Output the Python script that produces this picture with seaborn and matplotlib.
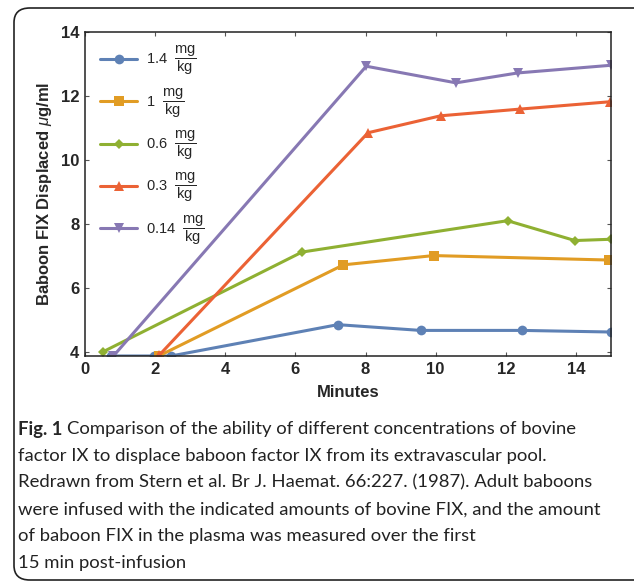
import matplotlib
matplotlib.use("Agg")
import matplotlib.pyplot as plt
import seaborn as sns
import pandas as pd
from matplotlib.patches import FancyBboxPatch

# data
doses = ["1.4", "1", "0.6", "0.3", "0.14"]
minutes_14 = [0.75, 1.97, 2.45, 7.21, 9.57, 12.47, 15.0]
fix_14 = [3.87, 3.87, 3.87, 4.85, 4.67, 4.67, 4.62]
minutes_10 = [2.1, 7.37, 9.94, 14.95]
fix_10 = [3.87, 6.72, 7.01, 6.87]
minutes_06 = [0.51, 6.19, 12.05, 13.97, 15.0]
fix_06 = [4.0, 7.12, 8.10, 7.48, 7.52]
minutes_03 = [2.12, 8.07, 10.14, 12.41, 14.98]
fix_03 = [3.9, 10.85, 11.38, 11.59, 11.82]
minutes_014 = [0.81, 8.02, 10.58, 12.34, 15.0]
fix_014 = [3.87, 12.93, 12.41, 12.72, 12.96]

caption = [
    "Comparison of the ability of different concentrations of bovine",
    "factor IX to displace baboon factor IX from its extravascular pool.",
    "Redrawn from Stern et al. Br J. Haemat. 66:227. (1987). Adult baboons",
    "were infused with the indicated amounts of bovine FIX, and the amount",
    "of baboon FIX in the plasma was measured over the first",
    "15 min post-infusion",
]

colors = ["#5E81B5", "#E19C24", "#8FB032", "#EB6235", "#8778B3"]
marks = ["o", "s", "D", "^", "v"]

rows = []
for dose, xs, ys in zip(doses,
                        [minutes_14, minutes_10, minutes_06, minutes_03, minutes_014],
                        [fix_14, fix_10, fix_06, fix_03, fix_014]):
    for x, y in zip(xs, ys):
        rows.append({"dose": dose, "minutes": x, "fix": y})
df = pd.DataFrame(rows)

sns.set_style("ticks")
plt.rcParams["font.family"] = ["Liberation Sans", "DejaVu Sans"]
plt.rcParams["mathtext.fontset"] = "custom"
plt.rcParams["mathtext.rm"] = "Liberation Sans"
plt.rcParams["mathtext.it"] = "Liberation Sans:italic"
plt.rcParams["mathtext.bf"] = "Liberation Sans:bold"

fig = plt.figure(figsize=(6.34, 5.82), dpi=100)
frame = FancyBboxPatch((14 / 634, 2 / 582), 640 / 634, 572 / 582,
                       boxstyle="round,pad=0,rounding_size=0.025",
                       transform=fig.transFigure, fill=False,
                       edgecolor="#222222", linewidth=1.2)
fig.patches.append(frame)

ax = fig.add_axes([85 / 634, 226 / 582, 526 / 634, 324 / 582])
sns.lineplot(data=df, x="minutes", y="fix", hue="dose", style="dose",
             hue_order=doses, style_order=doses,
             palette=dict(zip(doses, colors)), markers=dict(zip(doses, marks)),
             dashes=False, linewidth=2.2, markersize=7, markeredgewidth=0,
             legend=False, ax=ax)
for line, m in zip(ax.get_lines(), marks):
    if m == "D":
        line.set_markersize(5)

ax.set_xlim(0, 15)
ax.set_ylim(3.87, 14)
ax.set_xticks(range(0, 15, 2))
ax.set_yticks(range(4, 15, 2))
ax.tick_params(direction="in", length=3, width=0.8, top=True, right=True,
               labelsize=12, pad=4, color="#555555")
for lab in ax.get_xticklabels() + ax.get_yticklabels():
    lab.set_fontweight("bold")
for sp in ax.spines.values():
    sp.set_visible(True)
    sp.set_linewidth(1.1)
    sp.set_color("#222222")
ax.set_xlabel("Minutes", fontsize=12, fontweight="bold", labelpad=6)
ax.set_ylabel(r"Baboon FIX Displaced $\mu$g/ml", fontsize=12,
              fontweight="bold", labelpad=5)

labels = [d + r"  $\dfrac{\mathrm{mg}}{\mathrm{kg}}$" for d in doses]
ax.legend(ax.get_lines()[:5], labels, loc="upper left", frameon=False,
          fontsize=10.5, handlelength=2.5, labelspacing=0.6,
          bbox_to_anchor=(0.01, 0.995), borderaxespad=0.3, handletextpad=0.6)

# caption
y0 = 1 - 429 / 582
dy = 26.8 / 582
cap_font = ["Lato", "DejaVu Sans"]
fig_t = fig.text(18 / 634, y0, "Fig. 1", fontsize=13.3, fontweight="bold",
                 family=cap_font, va="center")
fig.canvas.draw()
bb = fig_t.get_window_extent()
fig.text((bb.x1 + 5) / 634, y0, caption[0], fontsize=13.3, family=cap_font,
         va="center", color="#222222")
for i, line in enumerate(caption[1:], start=1):
    fig.text(18 / 634, y0 - i * dy, line, fontsize=13.3, family=cap_font,
             va="center", color="#222222")

fig.savefig("out.png", dpi=100)
